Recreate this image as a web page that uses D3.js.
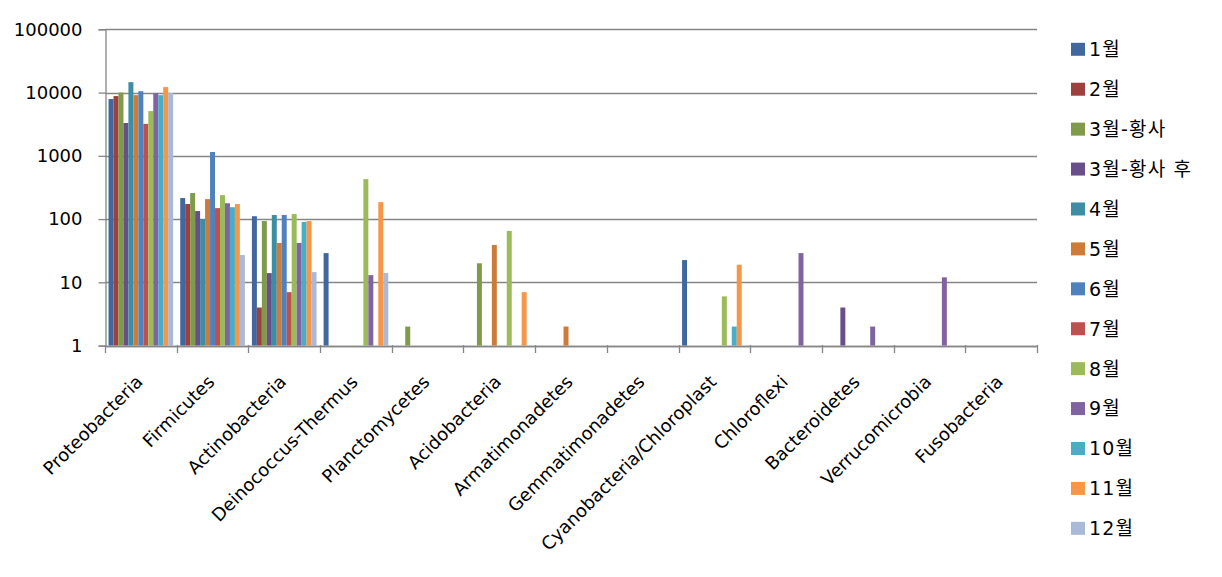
<!DOCTYPE html>
<html><head><meta charset="utf-8">
<script src="https://cdn.jsdelivr.net/npm/d3@7"></script>
<style>
html,body{margin:0;padding:0;background:#fff;}
svg text{font-family:"DejaVu Sans","Noto Sans CJK KR",sans-serif;fill:#000;}
</style></head>
<body><svg id="c" width="1222" height="577"></svg>
<script>
const categories = ["Proteobacteria","Firmicutes","Actinobacteria","Deinococcus-Thermus","Planctomycetes","Acidobacteria","Armatimonadetes","Gemmatimonadetes","Cyanobacteria/Chloroplast","Chloroflexi","Bacteroidetes","Verrucomicrobia","Fusobacteria"];
const seriesNames = ["1월","2월","3월-황사","3월-황사 후","4월","5월","6월","7월","8월","9월","10월","11월","12월"];
const seriesColors = ["#41689E","#9E413E","#7F9A48","#684F8A","#3D8DA5","#CC7B38","#4F81BD","#C0504D","#9BBB59","#8064A2","#4BACC6","#F79646","#A9BAD8"];
const m01 = [7900, 215, 111, 29, null, null, null, null, 22.5, null, null, null, null];
const m02 = [8800, 173, 4, null, null, null, null, null, null, null, null, null, null];
const m03a = [10000, 258, 93, null, 2, 20, null, null, null, null, null, null, null];
const m03b = [3300, 134, 14, null, null, null, null, null, null, null, 4, null, null];
const m04 = [14600, 100, 116, null, null, null, null, null, null, null, null, null, null];
const m05 = [9100, 207, 42, null, null, 39, 2, null, null, null, null, null, null];
const m06 = [10500, 1150, 116, null, null, null, null, null, null, null, null, null, null];
const m07 = [3200, 149, 7, null, null, null, null, null, null, null, null, null, null];
const m08 = [5100, 239, 120, 428, null, 65, null, null, 6, null, null, null, null];
const m09 = [9800, 178, 42, 13, null, null, null, null, null, 29, 2, 12, null];
const m10 = [9100, 154, 90, null, null, null, null, null, 2, null, null, null, null];
const m11 = [12200, 173, 93, 185, null, 7, null, null, 19, null, null, null, null];
const m12 = [9800, 27, 14.5, 14, null, null, null, null, null, null, null, null, null];
const seriesValues = [m01,m02,m03a,m03b,m04,m05,m06,m07,m08,m09,m10,m11,m12];
const yTicks = [1,10,100,1000,10000,100000];

const svg = d3.select("#c");
const x0 = d3.scaleBand().domain(categories).range([105,1037]).padding(0);
const x1 = d3.scaleBand().domain(seriesNames).range([0,x0.bandwidth()]).paddingInner(0).paddingOuter(0.71);
const y = d3.scaleLog().domain([1,100000]).range([345.6,29.3]);
const grid = "#868686";

// gridlines
svg.append("g").selectAll("line").data(yTicks).join("line")
  .attr("x1",105).attr("x2",1037)
  .attr("y1",d=>Math.round(y(d))+0.5).attr("y2",d=>Math.round(y(d))+0.5)
  .attr("stroke",grid).attr("stroke-width",1.3);

// bars
const bars = [];
seriesValues.forEach((arr,si)=>arr.forEach((v,ci)=>{ if(v!=null) bars.push({s:seriesNames[si],c:categories[ci],v:v,col:seriesColors[si]}); }));
svg.append("g").selectAll("rect").data(bars).join("rect")
  .attr("x",d=>x0(d.c)+x1(d.s))
  .attr("width",x1.bandwidth())
  .attr("y",d=>y(d.v))
  .attr("height",d=>y(1)-y(d.v))
  .attr("fill",d=>d.col);

// y axis
const ya = svg.append("g").attr("transform","translate(105.5,0)")
  .call(d3.axisLeft(y).tickValues(yTicks).tickFormat(d3.format("d")).tickSize(7).tickPadding(16));
ya.select(".domain").attr("stroke",grid).attr("stroke-width",1.3);
ya.selectAll(".tick line").attr("stroke",grid).attr("stroke-width",1.3);
ya.selectAll(".tick text").attr("font-size",18).attr("font-family","DejaVu Sans");

// x axis line + boundary ticks
svg.append("line").attr("x1",105).attr("x2",1037).attr("y1",Math.round(y(1))+0.5).attr("y2",Math.round(y(1))+0.5)
  .attr("stroke",grid).attr("stroke-width",1.3);
const bounds = categories.map(c=>x0(c)).concat([x0.range()[1]]);
svg.append("g").selectAll("line").data(bounds).join("line")
  .attr("x1",d=>Math.round(d)+0.5).attr("x2",d=>Math.round(d)+0.5)
  .attr("y1",345).attr("y2",353).attr("stroke",grid).attr("stroke-width",1.3);

// category labels
svg.append("g").selectAll("text").data(categories).join("text")
  .attr("transform",d=>`translate(${x0(d)+x0.bandwidth()/2+3},383) rotate(-45)`)
  .attr("text-anchor","end").attr("font-size",18).text(d=>d);

// legend
const lg = svg.append("g");
seriesNames.forEach((n,i)=>{
  const cy = 49.3 + i*39.92;
  lg.append("rect").attr("x",1071).attr("y",cy-6.5).attr("width",14).attr("height",13).attr("fill",seriesColors[i]);
  lg.append("text").attr("x",1089).attr("y",cy).attr("dy","0.36em").attr("font-size",19)
    .attr("letter-spacing","1.2px").text(n);
});
</script></body></html>
